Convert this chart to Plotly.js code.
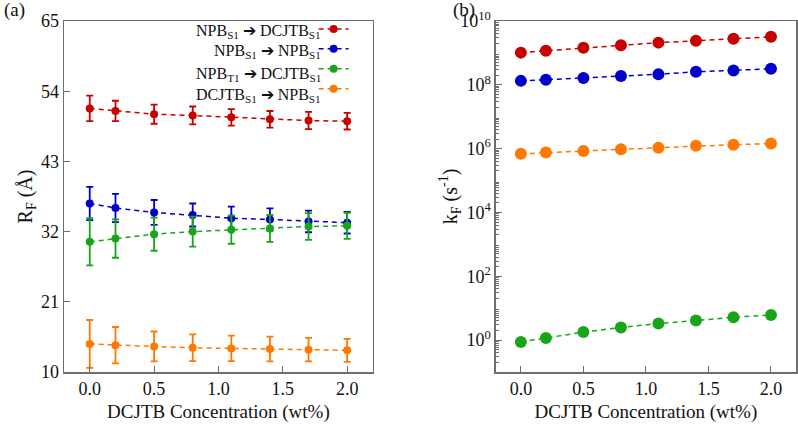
<!DOCTYPE html>
<html><head><meta charset="utf-8">
<script src="https://cdn.plot.ly/plotly-3.0.1.min.js"></script>
<style>html,body{margin:0;padding:0;background:#fff}</style>
</head><body>
<div id="chart" style="width:798px;height:424px"></div>
<script>
// ---- data ----
const conc = [0, 0.2, 0.5, 0.8, 1.1, 1.4, 1.7, 2.0];
const seriesNames = [
  'NPB<sub>S1</sub> ➔ DCJTB<sub>S1</sub>',
  'NPB<sub>S1</sub> ➔ NPB<sub>S1</sub>',
  'NPB<sub>T1</sub> ➔ DCJTB<sub>S1</sub>',
  'DCJTB<sub>S1</sub> ➔ NPB<sub>S1</sub>'
];
const rfNpbS1Dcjtb = [51.3, 50.9, 50.4, 50.2, 49.9, 49.6, 49.4, 49.3];
const rfNpbS1DcjtbErr = [2.0, 1.6, 1.5, 1.4, 1.3, 1.3, 1.35, 1.3];
const rfNpbS1Npb = [36.4, 35.7, 35.0, 34.6, 34.1, 33.9, 33.6, 33.4];
const rfNpbS1NpbErr = [2.6, 2.2, 1.95, 1.8, 1.8, 1.75, 1.7, 1.7];
const rfNpbT1Dcjtb = [30.4, 30.9, 31.6, 32.0, 32.3, 32.5, 32.8, 32.9];
const rfNpbT1DcjtbErr = [3.7, 3.0, 2.6, 2.35, 2.2, 2.1, 2.1, 2.05];
const rfDcjtbNpb = [14.4, 14.2, 14.0, 13.8, 13.7, 13.6, 13.5, 13.4];
const rfDcjtbNpbErr = [3.75, 2.85, 2.35, 2.1, 2.0, 1.95, 1.85, 1.8];

const kfNpbS1Dcjtb = [1.02e9, 1.17e9, 1.44e9, 1.73e9, 2.1e9, 2.4e9, 2.8e9, 3.2e9];
const kfNpbS1Npb = [1.33e8, 1.44e8, 1.63e8, 1.9e8, 2.15e8, 2.56e8, 2.8e8, 3.17e8];
const kfNpbT1Dcjtb = [0.87, 1.17, 1.78, 2.48, 3.3, 4.1, 5.2, 6.1];
const kfDcjtbNpb = [6.9e5, 7.6e5, 8.4e5, 9.5e5, 1.07e6, 1.23e6, 1.33e6, 1.44e6];

const rfTicks = [10, 21, 32, 43, 54, 65];
const concTicks = [0, 0.5, 1.0, 1.5, 2.0];
const concTickText = ['0.0', '0.5', '1.0', '1.5', '2.0'];
const kfTickExp = [0, 2, 4, 6, 8, 10];

// ---- styles ----
const colors = ['rgb(200,0,0)', 'rgb(0,0,205)', 'rgb(25,165,25)', 'rgb(255,120,0)'];
const serif = 'Liberation Serif';
const frame = 'rgb(110,110,110)';

const rfVals = [rfNpbS1Dcjtb, rfNpbS1Npb, rfNpbT1Dcjtb, rfDcjtbNpb];
const rfErrs = [rfNpbS1DcjtbErr, rfNpbS1NpbErr, rfNpbT1DcjtbErr, rfDcjtbNpbErr];
const kfVals = [kfNpbS1Dcjtb, kfNpbS1Npb, kfNpbT1Dcjtb, kfDcjtbNpb];

const traces = [];
rfVals.forEach((v, i) => {
  traces.push({
    x: conc, y: v, type: 'scatter', mode: 'lines+markers', name: ' ',
    xaxis: 'x', yaxis: 'y',
    line: {color: colors[i], width: 1.5, dash: '5px,4px'},
    marker: {color: colors[i], size: 8},
    error_y: {type: 'data', array: rfErrs[i], visible: true, color: colors[i], thickness: 1.8, width: 3.5},
    showlegend: true
  });
});
kfVals.forEach((v, i) => {
  traces.push({
    x: conc, y: v, type: 'scatter', mode: 'lines+markers',
    xaxis: 'x2', yaxis: 'y2',
    line: {color: colors[i], width: 1.5, dash: '5px,4px'},
    marker: {color: colors[i], size: 12},
    showlegend: false
  });
});

const minorVals = [];
for (let n = -1; n < 10; n++) for (let k = 2; k <= 9; k++) minorVals.push(k * Math.pow(10, n));

function axisCommon() {
  return {
    showline: true, linecolor: frame, linewidth: 1.5, mirror: true,
    ticks: 'inside', ticklen: 6, tickwidth: 1, tickcolor: frame,
    showgrid: false, zeroline: false,
    tickfont: {family: serif, size: 18, color: '#111'}
  };
}

const annotations = [];
const rowY = [0.971, 0.912, 0.849, 0.789];
seriesNames.forEach((nm, i) => {
  annotations.push({
    xref: 'x domain', yref: 'y domain', x: 0.84, y: rowY[i],
    xanchor: 'right', yanchor: 'middle', showarrow: false,
    text: nm, font: {family: serif, size: 16, color: '#111'}
  });
});
annotations.push({xref: 'paper', yref: 'paper', x: -0.085, y: 1.031, xanchor: 'left', yanchor: 'middle',
  showarrow: false, text: '(a)', font: {family: serif, size: 19, color: '#111'}});
annotations.push({xref: 'paper', yref: 'paper', x: 0.529, y: 1.031, xanchor: 'left', yanchor: 'middle',
  showarrow: false, text: '(b)', font: {family: serif, size: 19, color: '#111'}});
annotations.push({xref: 'paper', yref: 'paper', x: 0.527, y: 0.5, xanchor: 'center', yanchor: 'middle',
  textangle: -90, showarrow: false, text: 'k<sub>F</sub> (s<sup>-1</sup>)', font: {family: serif, size: 20, color: '#111'}});

const xTitle = 'DCJTB Concentration (wt%)';
const layout = {
  width: 798, height: 424,
  margin: {l: 64, r: 2, t: 21, b: 52},
  paper_bgcolor: '#fff', plot_bgcolor: '#fff',
  font: {family: serif, color: '#111'},
  xaxis: Object.assign(axisCommon(), {
    domain: [0, 0.422], range: [-0.2, 2.2],
    tickmode: 'array', tickvals: concTicks, ticktext: concTickText,
    title: {text: xTitle, font: {family: serif, size: 19}, standoff: 6}
  }),
  yaxis: Object.assign(axisCommon(), {
    range: [10, 65], tickmode: 'array', tickvals: rfTicks,
    title: {text: 'R<sub>F</sub> (Å)', font: {family: serif, size: 20}, standoff: 3}
  }),
  xaxis2: Object.assign(axisCommon(), {
    domain: [0.590, 1], range: [-0.2, 2.2], anchor: 'y2',
    tickmode: 'array', tickvals: concTicks, ticktext: concTickText,
    title: {text: xTitle, font: {family: serif, size: 19}, standoff: 6}
  }),
  yaxis2: Object.assign(axisCommon(), {
    type: 'log', range: [-1, 10], anchor: 'x2',
    tickmode: 'array', tickvals: kfTickExp.map(e => Math.pow(10, e)),
    ticktext: kfTickExp.map(e => '10<sup>' + e + '</sup>'),
    minor: {ticks: 'inside', ticklen: 3, tickcolor: frame, tickmode: 'array', tickvals: minorVals, showgrid: false}
  }),
  showlegend: true,
  legend: {x: 0.341, y: 1.02, xanchor: 'left', yanchor: 'top', bgcolor: 'rgba(0,0,0,0)',
    font: {family: serif, size: 13}, itemwidth: 30, tracegroupgap: 0},
  annotations: annotations
};

Plotly.newPlot('chart', traces, layout, {displayModeBar: false, staticPlot: true});
</script>
</body></html>
